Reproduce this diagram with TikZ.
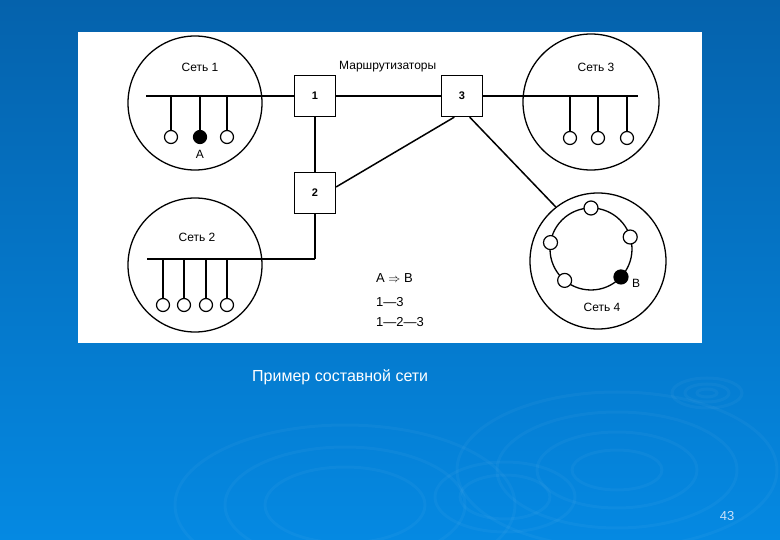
\documentclass[tikz,border=0pt]{standalone}
\usepackage{fontspec}
\setmainfont{Liberation Sans}
\begin{document}
\begin{tikzpicture}[x=1pt,y=-1pt,
  net/.style={draw=black, line width=1.3pt, circle, minimum size=134pt, inner sep=0pt},
  router/.style={draw=black, line width=1.3pt, minimum size=41pt, inner sep=0pt, fill=white, font=\fontsize{11}{13}\selectfont\bfseries},
  sta/.style={draw=black, line width=1.2pt, circle, minimum size=13pt, inner sep=0pt, fill=white},
  stab/.style={sta, fill=black},
  bus/.style={line width=2.5pt},
  link/.style={line width=1.5pt},
  stem/.style={line width=1.3pt},
  lbl/.style={font=\fontsize{12}{14}\selectfont, inner sep=0pt},
  leg/.style={font=\fontsize{13}{15}\selectfont, inner sep=0pt, anchor=west},
  ripple/.style={draw=white, opacity=0.035, line width=3pt}]
% background
\fill[top color={rgb,255:red,5;green,98;blue,172}, bottom color={rgb,255:red,5;green,137;blue,226}] (0,0) rectangle (780,540);
\useasboundingbox (0,0) rectangle (780,540);
% ripples
\foreach \rx/\ry in {160/78,120/58,80/38,45/20} \draw[ripple] (617,470) ellipse [x radius=\rx, y radius=\ry];
\foreach \rx/\ry in {70/35,45/22} \draw[ripple] (505,497) ellipse [x radius=\rx, y radius=\ry];
\foreach \rx/\ry in {170/80,120/58,80/38} \draw[ripple] (345,505) ellipse [x radius=\rx, y radius=\ry];
\foreach \rx/\ry in {35/15,22/9,10/4} \draw[ripple] (707,393) ellipse [x radius=\rx, y radius=\ry];
% panel
\fill[white] (78,32) rectangle (702,343);
% networks
\node[net] (n1) at (195,103) {};
\node[net] (n2) at (195,265) {};
\node[net, minimum size=136pt] (n3) at (591,102) {};
\node[net, minimum size=136pt] (n4) at (598,261) {};
% routers
\node[router] (r1) at (315,96) {1};
\node[router] (r3) at (462,96) {3};
\node[router] (r2) at (315,193) {2};
% labels
\node[lbl] (l1) at (200,67) {Сеть 1};
\node[lbl] (l2) at (197,237) {Сеть 2};
\node[lbl] (l3) at (596,67) {Сеть 3};
\node[lbl] (l4) at (602,307) {Сеть 4};
\node[lbl, anchor=west] (lr) at (339,67) {Маршрутизаторы};
% net 1
\coordinate (b1w) at (146,96);
\draw[bus] (b1w) -- (r1);
\node[sta] (s1a) at (171,137) {};
\node[stab] (s1b) at (200,137) {};
\node[sta] (s1c) at (227,137) {};
\foreach \s in {s1a,s1b,s1c} \draw[stem] (\s |- b1w) -- (\s);
\node[lbl] (la) at (200,154) {A};
% routers links
\draw[bus] (r1) -- (r3);
\draw[link] (r1) -- (r2);
\draw[link] (r2.16) -- (r3.250);
\draw[link] (r3.290) -- (n4.128);
% net 3
\coordinate (b3e) at (638,96);
\draw[bus] (r3) -- (b3e);
\node[sta] (s3a) at (570,138) {};
\node[sta] (s3b) at (598,138) {};
\node[sta] (s3c) at (627,138) {};
\foreach \s in {s3a,s3b,s3c} \draw[stem] (\s |- b3e) -- (\s);
% net 2
\coordinate (b2w) at (147,259);
\coordinate (b2c) at (315,259);
\draw[bus] (b2w) -- (b2c);
\draw[link] (b2c) -- (r2);
\node[sta] (s2a) at (163,305) {};
\node[sta] (s2b) at (184,305) {};
\node[sta] (s2c) at (206,305) {};
\node[sta] (s2d) at (227,305) {};
\foreach \s in {s2a,s2b,s2c,s2d} \draw[stem] (\s |- b2w) -- (\s);
% net 4 ring
\node[draw=black, line width=1.3pt, circle, minimum size=82pt, inner sep=0pt] (ring) at (591,249) {};
\node[sta, minimum size=14pt] (s4a) at (ring.center) [shift={(90:41pt)}] {};
\node[sta, minimum size=14pt] (s4b) at (ring.center) [shift={(17:41pt)}] {};
\node[sta, minimum size=14pt] (s4c) at (ring.center) [shift={(171:41pt)}] {};
\node[sta, minimum size=14pt] (s4d) at (ring.center) [shift={(230:41pt)}] {};
\node[stab, minimum size=14pt] (s4e) at (ring.center) [shift={(317:41pt)}] {};
\node[lbl, anchor=west] (lb) at (632,283) {B};
% legend
\node[leg] (g1) at (376,278) {A $\Rightarrow$ B};
\node[leg] (g2) at (376,302) {1—3};
\node[leg] (g3) at (376,322) {1—2—3};
% caption
\node[anchor=west, text=white, inner sep=0pt, font=\fontsize{16}{19}\selectfont] (cap) at (252,377) {Пример составной сети};
\node[text={rgb,255:red,200;green,225;blue,250}, inner sep=0pt, font=\fontsize{13}{15}\selectfont] (pg) at (727,516) {43};
\end{tikzpicture}
\end{document}
